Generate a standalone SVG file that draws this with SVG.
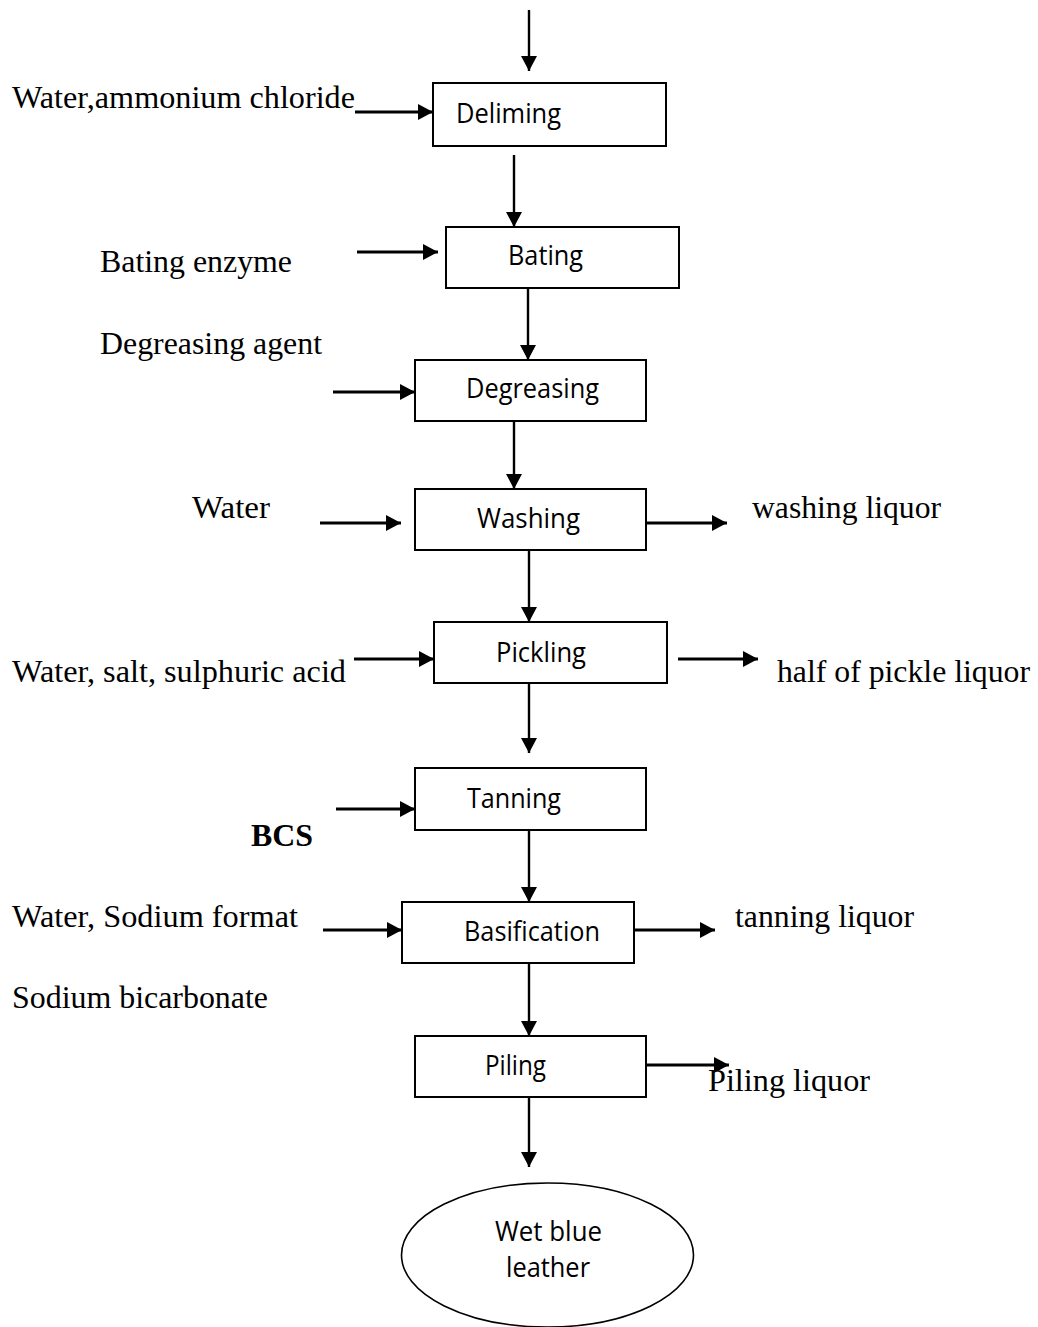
<svg xmlns="http://www.w3.org/2000/svg" width="1038" height="1327" viewBox="0 0 1038 1327">
<style>
.box{fill:#fff;stroke:#000;stroke-width:2}
.bt{font-family:"Open Sans","Liberation Sans",sans-serif;font-size:27px;fill:#000}
.tt{font-family:"Liberation Serif","Times New Roman",serif;font-size:32px;fill:#000}
.v{stroke:#000;stroke-width:2.4;fill:none}
.h{stroke:#000;stroke-width:3;fill:none}
</style>
<defs>
<marker id="ah" markerUnits="userSpaceOnUse" markerWidth="16" markerHeight="16" refX="15" refY="8" orient="auto">
<path d="M0,0 L15,8 L0,16 z" fill="#000"/>
</marker>
</defs>
<rect width="1038" height="1327" fill="#fff"/>
<g id="connectors">
<line class="v" x1="529" y1="10" x2="529" y2="71" marker-end="url(#ah)"/>
<line class="v" x1="514" y1="155" x2="514" y2="227" marker-end="url(#ah)"/>
<line class="v" x1="528" y1="288" x2="528" y2="360" marker-end="url(#ah)"/>
<line class="v" x1="514" y1="417" x2="514" y2="489" marker-end="url(#ah)"/>
<line class="v" x1="529" y1="550" x2="529" y2="622" marker-end="url(#ah)"/>
<line class="v" x1="529" y1="683" x2="529" y2="753" marker-end="url(#ah)"/>
<line class="v" x1="529" y1="830" x2="529" y2="902" marker-end="url(#ah)"/>
<line class="v" x1="529" y1="963" x2="529" y2="1036" marker-end="url(#ah)"/>
<line class="v" x1="529" y1="1097" x2="529" y2="1167" marker-end="url(#ah)"/>
<line class="h" x1="355" y1="112" x2="433" y2="112" marker-end="url(#ah)"/>
<line class="h" x1="357" y1="252" x2="438" y2="252" marker-end="url(#ah)"/>
<line class="h" x1="333" y1="392" x2="415" y2="392" marker-end="url(#ah)"/>
<line class="h" x1="320" y1="523" x2="401" y2="523" marker-end="url(#ah)"/>
<line class="h" x1="646" y1="523" x2="727" y2="523" marker-end="url(#ah)"/>
<line class="h" x1="354" y1="659" x2="434" y2="659" marker-end="url(#ah)"/>
<line class="h" x1="678" y1="659" x2="758" y2="659" marker-end="url(#ah)"/>
<line class="h" x1="336" y1="809" x2="415" y2="809" marker-end="url(#ah)"/>
<line class="h" x1="323" y1="930" x2="402" y2="930" marker-end="url(#ah)"/>
<line class="h" x1="634" y1="930" x2="715" y2="930" marker-end="url(#ah)"/>
<line class="h" x1="646" y1="1065" x2="729" y2="1065" marker-end="url(#ah)"/>
</g>
<g id="deliming"><rect class="box" x="433" y="83" width="233" height="63"/><text class="bt" x="456" y="123" textLength="105" lengthAdjust="spacingAndGlyphs">Deliming</text></g>
<g id="bating"><rect class="box" x="446" y="227" width="233" height="61"/><text class="bt" x="508" y="265" textLength="75" lengthAdjust="spacingAndGlyphs">Bating</text></g>
<g id="degreasing"><rect class="box" x="415" y="360" width="231" height="61"/><text class="bt" x="466" y="398" textLength="133" lengthAdjust="spacingAndGlyphs">Degreasing</text></g>
<g id="washing"><rect class="box" x="415" y="489" width="231" height="61"/><text class="bt" x="477" y="528" textLength="103" lengthAdjust="spacingAndGlyphs">Washing</text></g>
<g id="pickling"><rect class="box" x="434" y="622" width="233" height="61"/><text class="bt" x="496" y="662" textLength="90" lengthAdjust="spacingAndGlyphs">Pickling</text></g>
<g id="tanning"><rect class="box" x="415" y="768" width="231" height="62"/><text class="bt" x="467" y="808" textLength="94" lengthAdjust="spacingAndGlyphs">Tanning</text></g>
<g id="basification"><rect class="box" x="402" y="902" width="232" height="61"/><text class="bt" x="464" y="941" textLength="136" lengthAdjust="spacingAndGlyphs">Basification</text></g>
<g id="piling"><rect class="box" x="415" y="1036" width="231" height="61"/><text class="bt" x="485" y="1075" textLength="61" lengthAdjust="spacingAndGlyphs">Piling</text></g>
<g id="wet-blue-leather"><ellipse cx="547.5" cy="1255" rx="146" ry="72" fill="#fff" stroke="#000" stroke-width="1.6"/><text class="bt" x="495" y="1241" textLength="107" lengthAdjust="spacingAndGlyphs">Wet blue</text><text class="bt" x="506" y="1277" textLength="84" lengthAdjust="spacingAndGlyphs">leather</text></g>
<g id="labels">
<text class="tt" x="12" y="108" textLength="343" lengthAdjust="spacingAndGlyphs">Water,ammonium chloride</text>
<text class="tt" x="100" y="272" textLength="192" lengthAdjust="spacingAndGlyphs">Bating enzyme</text>
<text class="tt" x="100" y="354" textLength="222" lengthAdjust="spacingAndGlyphs">Degreasing agent</text>
<text class="tt" x="192" y="518" textLength="78" lengthAdjust="spacingAndGlyphs">Water</text>
<text class="tt" x="752" y="518" textLength="189" lengthAdjust="spacingAndGlyphs">washing liquor</text>
<text class="tt" x="12" y="682" textLength="334" lengthAdjust="spacingAndGlyphs">Water, salt, sulphuric acid</text>
<text class="tt" x="777" y="682" textLength="253" lengthAdjust="spacingAndGlyphs">half of pickle liquor</text>
<text class="tt" x="251" y="846" font-weight="bold" textLength="62" lengthAdjust="spacingAndGlyphs">BCS</text>
<text class="tt" x="12" y="927" textLength="286" lengthAdjust="spacingAndGlyphs">Water, Sodium format</text>
<text class="tt" x="735" y="927" textLength="179" lengthAdjust="spacingAndGlyphs">tanning liquor</text>
<text class="tt" x="12" y="1008" textLength="256" lengthAdjust="spacingAndGlyphs">Sodium bicarbonate</text>
<text class="tt" x="708" y="1091" textLength="162" lengthAdjust="spacingAndGlyphs">Piling liquor</text>
</g>
</svg>
